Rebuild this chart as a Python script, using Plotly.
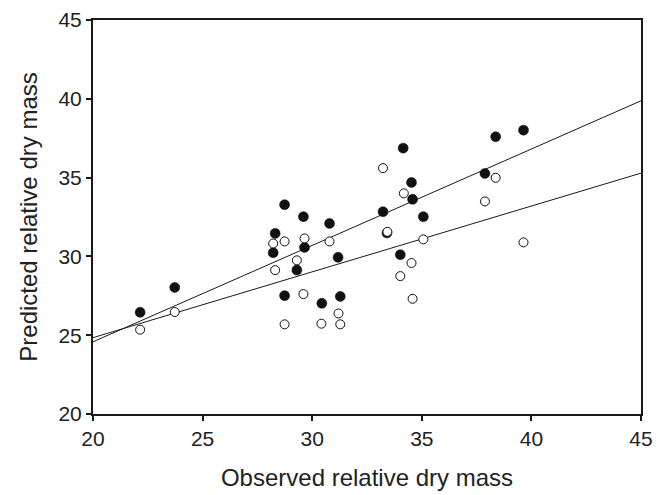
import numpy as np
import plotly.graph_objects as go

# observed relative dry mass (same for both predictions)
observed = [22.15, 23.73, 28.31, 28.22, 28.74, 28.74, 29.60, 29.65, 29.30, 30.79, 31.18, 30.44,
            31.28, 33.23, 33.41, 34.15, 34.53, 34.58, 34.02, 35.07, 37.88, 38.37, 39.64]
# filled circles
pred_filled = [26.45, 28.03, 31.46, 30.23, 33.28, 27.51, 32.52, 30.57, 29.13, 32.09, 29.94, 27.02,
               27.46, 32.83, 31.48, 36.87, 34.69, 33.62, 30.11, 32.52, 35.26, 37.59, 38.01]
# open circles, in the same order of observed values
observed_open = [22.15, 23.73, 28.22, 28.74, 28.31, 29.30, 29.65, 29.60, 28.74, 30.79, 30.42, 31.20,
                 31.28, 33.23, 33.43, 34.18, 34.53, 34.02, 34.58, 35.07, 37.88, 38.37, 39.64]
pred_open = [25.35, 26.47, 30.82, 30.95, 29.13, 29.75, 31.14, 27.61, 25.69, 30.95, 25.73, 26.38,
             25.69, 35.60, 31.56, 34.00, 29.58, 28.75, 27.31, 31.08, 33.49, 34.99, 30.89]

line_x = [20, 45]
ticks = [20, 25, 30, 35, 40, 45]

fig = go.Figure()

# regression lines, one for each set of predictions
for xs, ys in [(observed, pred_filled), (observed_open, pred_open)]:
    slope, icpt = np.polyfit(xs, ys, 1)
    fig.add_trace(go.Scatter(
        x=line_x, y=[icpt + slope * v for v in line_x], mode="lines",
        line=dict(color="#1a1a1a", width=1), showlegend=False, hoverinfo="skip",
    ))

fig.add_trace(go.Scatter(
    x=observed, y=pred_filled, mode="markers",
    marker=dict(size=10, color="#111111", line=dict(color="#111111", width=0.5)),
    showlegend=False,
))
fig.add_trace(go.Scatter(
    x=observed_open, y=pred_open, mode="markers",
    marker=dict(size=9, color="white", line=dict(color="#111111", width=1)),
    showlegend=False,
))

axis_style = dict(
    range=[20, 45], tickvals=ticks, showgrid=False, zeroline=False,
    showline=True, linecolor="#1a1a1a", linewidth=2, mirror=True,
    ticks="outside", ticklen=5, tickwidth=1.5, tickcolor="#1a1a1a",
    tickfont=dict(size=21, color="#222222"), automargin=False,
)

# the page body adds an 8px margin, so the figure is sized to fit inside it
fig.update_layout(
    width=658, height=487,
    margin=dict(l=85, r=25, t=12, b=81),
    paper_bgcolor="white", plot_bgcolor="white",
    font=dict(family="Arial, Liberation Sans, sans-serif", color="#222222"),
    xaxis=dict(axis_style, title=dict(text="Observed relative dry mass",
                                      font=dict(size=24), standoff=20)),
    yaxis=dict(axis_style, title=dict(text="Predicted relative dry mass",
                                      font=dict(size=24), standoff=14)),
)

fig.write_html("out.html")
